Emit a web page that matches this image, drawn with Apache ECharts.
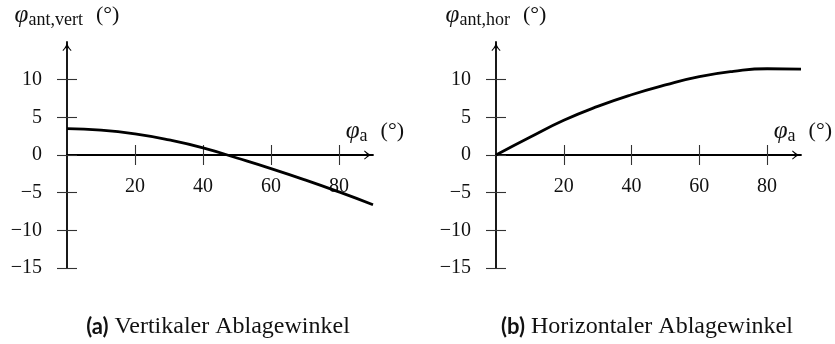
<!DOCTYPE html>
<html>
<head>
<meta charset="utf-8">
<script src="https://cdn.jsdelivr.net/npm/echarts@6/dist/echarts.min.js"></script>
<style>
  html, body { margin: 0; padding: 0; background: #fff; }
  #chart { width: 835px; height: 344px; }
</style>
</head>
<body>
<div id="chart"></div>
<script>
// Antenna deviation angles over the aspect angle φa (degrees)
const angles = [0, 10, 20, 30, 40, 50, 60, 70, 80, 90];
const vertValues = [3.5, 3.3, 2.8, 2.0, 0.95, -0.4, -1.8, -3.3, -4.9, -6.6];
const horValues = [0, 2.35, 4.6, 6.45, 8.0, 9.3, 10.4, 11.1, 11.45, 11.4];

const xTicks = [20, 40, 60, 80];
const yTicks = [-15, -10, -5, 0, 5, 10];
const xRange = [0, 90];
const yRange = [-15, 15];

const captionA = ['(a)', 'Vertikaler Ablagewinkel'];
const captionB = ['(b)', 'Horizontaler Ablagewinkel'];

const SERIF = '"Liberation Serif", "DejaVu Serif", serif';
const INK = '#111';

const GRID_H = 226;
// the horizontal axis sits on y = 0, measured up from the bottom edge of the grid
const xAxisLift = -GRID_H * (0 - yRange[0]) / (yRange[1] - yRange[0]);

const arrowPath = 'path://M5 0 C5.4 3 7 6 10 9.2 L9.3 9.9 C7.6 7.8 5.9 6.4 5 5.8 C4.1 6.4 2.4 7.8 0.7 9.9 L0 9.2 C3 6 4.6 3 5 0 Z';

const nameRich = {
  v: { fontFamily: SERIF, fontStyle: 'italic', fontSize: 25, color: INK },
  s: { fontFamily: SERIF, fontSize: 18, color: INK, padding: [10, 0, 0, 0] },
  g: { fontFamily: SERIF, fontSize: 20, color: INK, width: 13 },
  u: { fontFamily: SERIF, fontSize: 22, color: INK }
};

const tickStyle = { color: '#333', width: 1.1 };
const axisLineStyle = { color: '#000', width: 1.8 };

function pairs(xs, ys) {
  return xs.map((x, i) => [x, ys[i]]);
}

function minusSign(v) {
  return String(v).replace('-', '\u2212');
}

function buildXAxes(gridIndex) {
  const xMain = {
    type: 'value', gridIndex, position: 'bottom', offset: xAxisLift,
    min: xRange[0], max: xRange[1],
    name: '{v|φ}{s|a}{g| }{u|(°)}',
    nameLocation: 'end', nameGap: 31,
    nameTextStyle: { align: 'right', verticalAlign: 'bottom', padding: [0, 0, 10, 0], rich: nameRich },
    axisLine: {
      onZero: false,
      symbol: ['none', arrowPath], symbolSize: [9, 10], symbolOffset: [0, -4.5],
      lineStyle: axisLineStyle
    },
    axisTick: { show: true, inside: false, length: 10, customValues: xTicks, lineStyle: tickStyle },
    axisLabel: { customValues: xTicks, margin: 22, fontFamily: SERIF, fontSize: 20, color: INK },
    splitLine: { show: false }
  };
  const xInner = {
    type: 'value', gridIndex, position: 'bottom', offset: xAxisLift,
    min: xRange[0], max: xRange[1],
    axisLine: { show: false, onZero: false },
    axisTick: { show: true, inside: true, length: 10, customValues: xTicks, lineStyle: tickStyle },
    axisLabel: { show: false },
    splitLine: { show: false }
  };
  return [xMain, xInner];
}

function buildYAxes(gridIndex, nameSub) {
  const yMain = {
    type: 'value', gridIndex, position: 'left',
    min: yRange[0], max: yRange[1],
    name: '{v|φ}{s|' + nameSub + '}{g| }{u|(°)}',
    nameLocation: 'end', nameGap: 13,
    nameTextStyle: { align: 'center', verticalAlign: 'bottom', rich: nameRich },
    axisLine: {
      onZero: false,
      symbol: ['none', arrowPath], symbolSize: [9, 10], symbolOffset: [0, -4.5],
      lineStyle: axisLineStyle
    },
    axisTick: { show: true, inside: false, length: 10, customValues: yTicks, lineStyle: tickStyle },
    axisLabel: { customValues: yTicks, margin: 25, fontFamily: SERIF, fontSize: 20, color: INK, formatter: minusSign },
    splitLine: { show: false }
  };
  const yInner = {
    type: 'value', gridIndex, position: 'left',
    min: yRange[0], max: yRange[1],
    axisLine: { show: false, onZero: false },
    axisTick: { show: true, inside: true, length: 10, customValues: yTicks, lineStyle: tickStyle },
    axisLabel: { show: false },
    splitLine: { show: false }
  };
  return [yMain, yInner];
}

function caption(parts, cx) {
  return {
    type: 'text', x: cx, y: 327,
    style: {
      text: '{b|' + parts[0] + '}{t| ' + parts[1] + '}',
      align: 'center', verticalAlign: 'middle',
      rich: {
        b: { fontFamily: 'Lato, "Open Sans", sans-serif', fontWeight: 'bold', fontSize: 22, fill: INK },
        t: { fontFamily: SERIF, fontSize: 24, fill: INK }
      }
    }
  };
}

const chart = echarts.init(document.getElementById('chart'), null, { renderer: 'canvas' });

const lineStyle = { color: '#000', width: 2.8 };

chart.setOption({
  animation: false,
  backgroundColor: '#fff',
  grid: [
    { left: 67, top: 42, width: 306, height: GRID_H },
    { left: 496, top: 42, width: 306, height: GRID_H }
  ],
  xAxis: [...buildXAxes(0), ...buildXAxes(1)],
  yAxis: [...buildYAxes(0, 'ant,vert'), ...buildYAxes(1, 'ant,hor')],
  series: [
    {
      type: 'line', xAxisIndex: 0, yAxisIndex: 0,
      data: pairs(angles, vertValues),
      smooth: true, showSymbol: false, clip: false,
      lineStyle
    },
    {
      type: 'line', xAxisIndex: 2, yAxisIndex: 2,
      data: pairs(angles, horValues),
      smooth: true, showSymbol: false, clip: false,
      lineStyle
    }
  ],
  graphic: [caption(captionA, 218), caption(captionB, 647)]
});
</script>
</body>
</html>
